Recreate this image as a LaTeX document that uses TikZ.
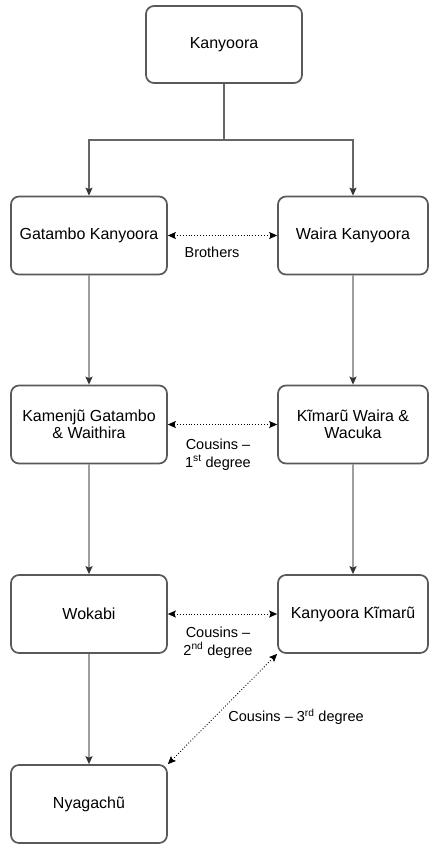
\documentclass[tikz,border=0pt]{standalone}
\usepackage{fontspec}
\setmainfont{Liberation Sans}
\usetikzlibrary{arrows.meta}
\begin{document}
\begin{tikzpicture}[x=1pt,y=1pt,
  person/.style={draw=black!65, line width=1.7pt, fill=white, rounded corners=8pt,
    minimum width=156pt, minimum height=78pt, align=center, inner sep=2pt,
    font=\fontsize{16}{17}\selectfont},
  personr/.style={person, minimum width=150pt},
  lbl/.style={align=center, inner sep=0pt, font=\fontsize{14.5}{17.5}\selectfont},
  topline/.style={draw=black!60, line width=1.2pt},
  down/.style={draw=black!38, line width=1.6pt, -{Stealth[length=8pt,width=7pt,inset=1.5pt,color=black!80]}},
  rel/.style={draw=black, line width=0.9pt, dotted,
    {Stealth[length=8pt,width=7pt,inset=1.5pt]}-{Stealth[length=8pt,width=7pt,inset=1.5pt]}}
]
\useasboundingbox (0,0) rectangle (429,-846);
\node[person, minimum height=77pt] (kan) at (224,-44.5) {Kanyoora};
\node[person] (gat) at (89,-235.5) {Gatambo Kanyoora};
\node[personr] (wai) at (353,-235.5) {Waira Kanyoora};
\node[person] (kam) at (89,-424.5) {Kamenjũ Gatambo\\\& Waithira};
\node[personr] (kim) at (353,-424.5) {Kĩmarũ Waira \&\\Wacuka};
\node[person] (wok) at (89,-614) {Wokabi};
\node[personr] (kk) at (353,-614) {Kanyoora Kĩmarũ};
\node[person] (nya) at (89,-804) {Nyagachũ};

\coordinate (j) at (224,-140);
\draw[topline] (kan.south) -- (j);
\draw[topline, -{Stealth[length=8pt,width=7pt,inset=1.5pt,color=black!80]}] (j) -| (gat.north);
\draw[topline, -{Stealth[length=8pt,width=7pt,inset=1.5pt,color=black!80]}] (j) -| (wai.north);

\draw[down] (gat) -- (kam);
\draw[down] (wai) -- (kim);
\draw[down] (kam) -- (wok);
\draw[down] (kim) -- (kk);
\draw[down] (wok) -- (nya);

\draw[rel] (gat) -- (wai);
\draw[rel] (kam) -- (kim);
\draw[rel] (wok) -- (kk);
\draw[rel] (kk.south west) -- (nya.north east);

\node[lbl] (l1) at (212,-252) {Brothers};
\node[lbl] (l2) at (218,-454.5) {Cousins –\\1\textsuperscript{st} degree};
\node[lbl] (l3) at (218,-642.5) {Cousins –\\2\textsuperscript{nd} degree};
\node[lbl] (l4) at (296,-717) {Cousins – 3\textsuperscript{rd} degree};
\end{tikzpicture}
\end{document}
